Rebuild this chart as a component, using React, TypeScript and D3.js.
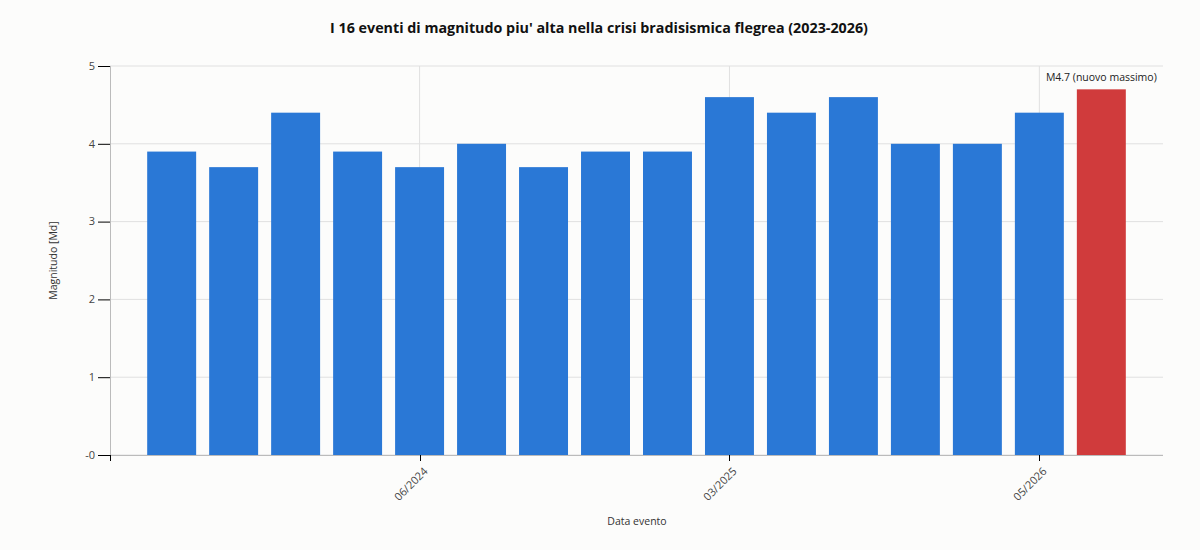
import React, { useEffect } from "react";
import * as d3 from "d3";

const title = "I 16 eventi di magnitudo piu' alta nella crisi bradisismica flegrea (2023-2026)";
const eventDates = [
  "09/2023", "10/2023", "05/2024", "05/2024", "06/2024", "08/2024", "10/2024", "02/2025",
  "03/2025", "03/2025", "05/2025", "06/2025", "09/2025", "01/2026", "05/2026", "06/2026",
];
const magnitudes = [3.9, 3.7, 4.4, 3.9, 3.7, 4.0, 3.7, 3.9, 3.9, 4.6, 4.4, 4.6, 4.0, 4.0, 4.4, 4.7];
const labelIndices = [4, 9, 14];
const yTicks = [0, 1, 2, 3, 4, 5];
const annotationText = "M4.7 (nuovo massimo)";
const yLabel = "Magnitudo [Md]";
const xLabel = "Data evento";

const W = 1200, H = 550;
const M = { left: 110, right: 1163, top: 66, bottom: 455 };
const FONT = "'Open Sans', 'Noto Sans', sans-serif";

export default function App() {
  useEffect(() => {
    document.body.style.margin = "0";
  }, []);
  const ids = magnitudes.map((_, i) => String(i));
  const x = d3.scaleBand<string>().domain(ids).range([M.left, M.right]).paddingInner(0.21).paddingOuter(0.6);
  const y = d3.scaleLinear().domain([0, 5]).range([M.bottom, M.top]);
  const maxIdx = magnitudes.length - 1;
  const cx = (i: number) => (x(String(i)) as number) + x.bandwidth() / 2;

  return (
    <svg width={W} height={H} style={{ display: "block", background: "#fcfcfb" }} fontFamily={FONT}>
      <rect x={0} y={0} width={W} height={H} fill="#fcfcfb" />
      <text x={599} y={33} textAnchor="middle" fontSize={14.3} fontWeight="bold" fill="#111">{title}</text>
      {/* grid */}
      {yTicks.map((t) => (
        <line key={"gy" + t} x1={M.left} x2={M.right} y1={y(t)} y2={y(t)} stroke="#e0e0e0" strokeWidth={1} />
      ))}
      {labelIndices.map((i) => (
        <line key={"gx" + i} x1={cx(i)} x2={cx(i)} y1={M.top} y2={M.bottom} stroke="#e0e0e0" strokeWidth={1} />
      ))}
      {/* bars */}
      {magnitudes.map((v, i) => (
        <rect key={i} x={x(String(i))} y={y(v)} width={x.bandwidth()} height={y(0) - y(v)}
          fill={i === maxIdx ? "#d03b3c" : "#2a78d6"} />
      ))}
      <text x={cx(maxIdx)} y={y(magnitudes[maxIdx]) - 8} textAnchor="middle" fontSize={10.5} fill="#222">{annotationText}</text>
      {/* axes */}
      <line x1={M.left + 0.5} x2={M.left + 0.5} y1={M.top} y2={M.bottom} stroke="#bbb" />
      <line x1={M.left} x2={M.right} y1={M.bottom + 0.5} y2={M.bottom + 0.5} stroke="#bbb" />
      {yTicks.map((t) => (
        <g key={"yt" + t}>
          <line x1={M.left - 12} x2={M.left} y1={y(t) + 0.5} y2={y(t) + 0.5} stroke="#000" />
          <text x={M.left - 15} y={y(t)} dy="0.35em" textAnchor="end" fontSize={11} fill="#444">{t === 0 ? "-0" : d3.format("d")(t)}</text>
        </g>
      ))}
      <line x1={M.left + 0.5} x2={M.left + 0.5} y1={M.bottom} y2={M.bottom + 6} stroke="#000" />
      {labelIndices.map((i) => (
        <g key={"xt" + i} transform={`translate(${Math.round(cx(i)) + 0.5},${M.bottom})`}>
          <line y1={0} y2={6} stroke="#000" />
          <text transform="translate(8,17) rotate(-45)" textAnchor="end" fontSize={11} fill="#444">{eventDates[i]}</text>
        </g>
      ))}
      <text transform={`translate(57,${(M.top + M.bottom) / 2}) rotate(-90)`} textAnchor="middle" fontSize={10.5} fill="#333">{yLabel}</text>
      <text x={637} y={525} textAnchor="middle" fontSize={10.5} fill="#333">{xLabel}</text>
    </svg>
  );
}
